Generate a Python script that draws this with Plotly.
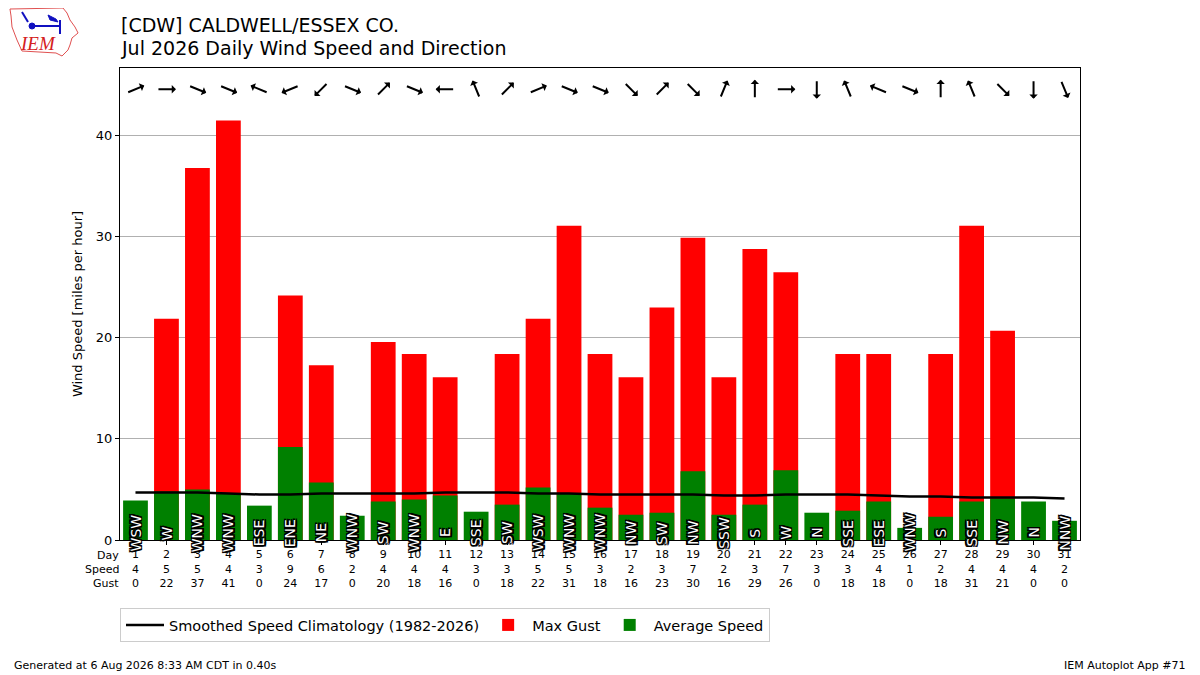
import math

import plotly.graph_objects as go

# Daily values
days = list(range(1, 32))
avg_speed = [3.9, 4.8, 5.0, 4.6, 3.4, 9.2, 5.7, 2.4, 3.8, 4.0, 4.4, 2.8, 3.5, 5.2, 4.6, 3.2,
             2.5, 2.7, 6.8, 2.5, 3.5, 6.9, 2.7, 2.9, 3.8, 1.2, 2.3, 3.8, 4.1, 3.8, 1.9]
max_gust = [0, 21.9, 36.8, 41.5, 0, 24.2, 17.3, 0, 19.6, 18.4, 16.1, 0, 18.4, 21.9, 31.1, 18.4,
            16.1, 23.0, 29.9, 16.1, 28.8, 26.5, 0, 18.4, 18.4, 0, 18.4, 31.1, 20.7, 0, 0]
speed_row = [4, 5, 5, 4, 3, 9, 6, 2, 4, 4, 4, 3, 3, 5, 5, 3, 2, 3, 7, 2, 3, 7, 3, 3, 4, 1, 2, 4, 4, 4, 2]
gust_row = [0, 22, 37, 41, 0, 24, 17, 0, 20, 18, 16, 0, 18, 22, 31, 18, 16, 23, 30, 16, 29, 26, 0,
            18, 18, 0, 18, 31, 21, 0, 0]
climo = [4.7, 4.7, 4.7, 4.6, 4.5, 4.5, 4.6, 4.6, 4.6, 4.6, 4.7, 4.7, 4.7, 4.6, 4.6, 4.5,
         4.5, 4.5, 4.5, 4.4, 4.4, 4.5, 4.5, 4.5, 4.4, 4.3, 4.3, 4.2, 4.2, 4.2, 4.1]
dir_labels = ["WSW", "W", "WNW", "WNW", "ESE", "ENE", "NE", "WNW", "SW", "WNW", "E", "SSE", "SW",
              "WSW", "WNW", "WNW", "NW", "SW", "NW", "SSW", "S", "W", "N", "SSE", "ESE", "WNW",
              "S", "SSE", "NW", "N", "NNW"]
compass = ["N", "NNE", "NE", "ENE", "E", "ESE", "SE", "SSE",
           "S", "SSW", "SW", "WSW", "W", "WNW", "NW", "NNW"]

# the page body adds an 8px margin, so lay the figure out 8px up/left
OFF = 8
W, H = 1200 - OFF, 675 - OFF
L, R, T, B = 120 - OFF, 1080 - OFF, 68 - OFF, 540 - OFF


def px(x, y):
    # screenshot pixel -> paper coords
    return (x - OFF - L) / (R - L), (B - (y - OFF)) / (B - T)


fig = go.Figure()
fig.add_trace(go.Scatter(x=days, y=climo, mode="lines", line=dict(color="black", width=2.5),
                         name="Smoothed Speed Climatology (1982-2026)"))
fig.add_trace(go.Bar(x=days, y=max_gust, width=0.8, marker=dict(color="#ff0000", line_width=0),
                     name="Max Gust"))
fig.add_trace(go.Bar(x=days, y=avg_speed, width=0.8, marker=dict(color="#008000", line_width=0),
                     name="Average Speed"))

stroke = ", ".join(f"{a}px {b}px 0 #000" for a in (-1.5, 0, 1.5) for b in (-1.5, 0, 1.5))

annotations = []
# wind direction arrows along the top, pointing where the wind blows to
arrow_len = 19
for d, lab in zip(days, dir_labels):
    toward = math.radians((compass.index(lab) * 22.5 + 180) % 360)
    vx = arrow_len * math.sin(toward)
    vy = arrow_len * math.cos(toward)
    annotations.append(dict(x=d, y=44.6, xref="x", yref="y", text="", showarrow=True,
                            ax=-vx, ay=vy, axref="pixel", ayref="pixel",
                            xshift=vx / 2, yshift=vy / 2,
                            arrowhead=1, arrowsize=0.7, arrowwidth=2, arrowcolor="black"))
    # direction label inside the bar
    annotations.append(dict(x=d, y=0.7, xref="x", yref="y", text=lab, showarrow=False,
                            textangle=-90,
                            font=dict(color="white", size=14, family="DejaVu Sans", shadow=stroke)))


def note(text, x, y, xanchor="center", **font):
    xp, yp = px(x, y)
    annotations.append(dict(x=xp, y=yp, xref="paper", yref="paper", text=text, showarrow=False,
                            xanchor=xanchor, yanchor="middle", font=font))


# table row labels
for lab, yy in [("Day", 555), ("Speed", 569), ("Gust", 583)]:
    note(lab, 121, yy, "right", size=11)

# titles
note("[CDW] CALDWELL/ESSEX CO.", 119, 25, "left", size=19)
note("Jul 2026 Daily Wind Speed and Direction", 119, 48, "left", size=19)

# footer
note("Generated at 6 Aug 2026 8:33 AM CDT in 0.40s", 12, 665, "left", size=11)
note("IEM Autoplot App #71", 1188, 665, "right", size=11)

# rough IEM logo
note("<i>IEM</i>", 38, 44, size=19, color="#d42020", family="Liberation Serif")
outline = [(10, 9), (63, 8), (67, 13), (70, 20), (75, 27), (78, 33), (72, 38), (70, 45),
           (68, 50), (62, 56), (56, 53), (22, 51), (17, 40), (12, 27), (11, 16)]


def pathstr(pts):
    return "M " + " L ".join(f"{px(a, b)[0]:.4f},{px(a, b)[1]:.4f}" for a, b in pts) + " Z"


shapes = [dict(type="path", path=pathstr(outline), xref="paper", yref="paper",
               line=dict(color="#e05050", width=1))]
blue = "#1010c0"
for (a0, b0), (a1, b1) in [((30, 26), (60, 26)), ((60, 20), (60, 34)), ((22, 12), (28, 22))]:
    x0, y0 = px(a0, b0)
    x1, y1 = px(a1, b1)
    shapes.append(dict(type="line", x0=x0, y0=y0, x1=x1, y1=y1, xref="paper", yref="paper",
                       line=dict(color=blue, width=2)))
cx0, cy0 = px(29, 23)
cx1, cy1 = px(35, 29)
shapes.append(dict(type="circle", x0=cx0, y0=cy0, x1=cx1, y1=cy1, xref="paper", yref="paper",
                   fillcolor=blue, line=dict(color=blue, width=1)))
shapes.append(dict(type="path", xref="paper", yref="paper", fillcolor=blue,
                   line=dict(color=blue, width=1),
                   path=pathstr([(48, 15), (56, 19), (58, 22), (50, 20)])))

ticktext = [f"{d}<br>{s}<br>{g}" for d, s, g in zip(days, speed_row, gust_row)]

legend_y = px(0, 608)[1]
fig.update_layout(
    width=W, height=H,
    margin=dict(l=L, r=W - R, t=T, b=H - B, pad=0),
    paper_bgcolor="white", plot_bgcolor="white",
    font=dict(family="DejaVu Sans", color="black", size=12),
    barmode="overlay",
    showlegend=True,
    legend=dict(orientation="h", x=px(120, 0)[0], y=legend_y, xanchor="left", yanchor="top",
                bordercolor="#cccccc", borderwidth=1, font=dict(size=14.5),
                itemwidth=38, traceorder="normal"),
    xaxis=dict(range=[0.5, 31.5], tickmode="array", tickvals=days, ticktext=ticktext,
               tickfont=dict(size=11), ticks="outside", ticklen=4, tickcolor="black",
               showgrid=False, showline=True, linecolor="black", mirror=True, zeroline=False),
    yaxis=dict(range=[0, 46.7], tickvals=[0, 10, 20, 30, 40], tickfont=dict(size=13),
               ticks="outside", ticklen=4, tickcolor="black",
               showgrid=True, gridcolor="#b0b0b0", showline=True, linecolor="black", mirror=True,
               zeroline=False,
               title=dict(text="Wind Speed [miles per hour]", font=dict(size=13), standoff=10)),
    annotations=annotations,
    shapes=shapes,
)

fig.write_html("out.html")
